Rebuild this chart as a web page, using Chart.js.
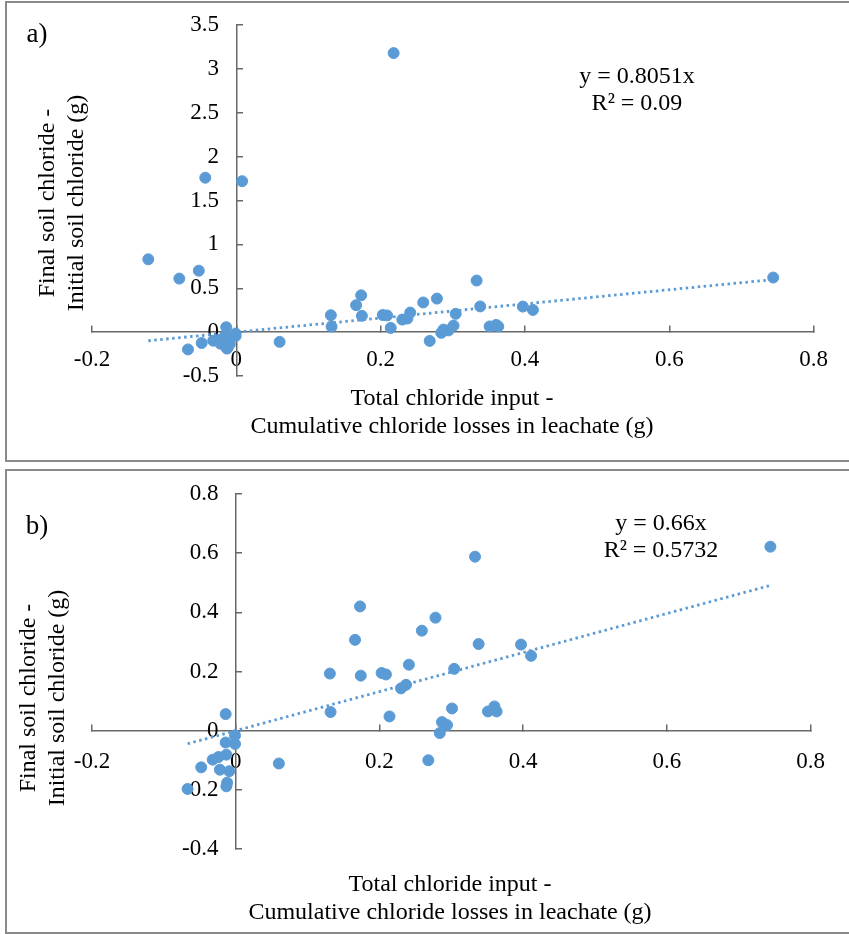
<!DOCTYPE html>
<html>
<head>
<meta charset="utf-8">
<script src="https://cdn.jsdelivr.net/npm/chart.js@4.4.1/dist/chart.umd.min.js"></script>
<style>
  html, body { margin: 0; padding: 0; background: #fff; }
  body { width: 849px; height: 934px; position: relative; overflow: hidden;
         font-family: 'Liberation Serif', 'Times New Roman', serif; color: #000; }
  .panel { position: absolute; left: 5px; width: 900px; border: 2px solid #8a8a8a; }
  #panelA { top: 1px; height: 457px; }
  #panelB { top: 469px; height: 461px; }
  canvas { position: absolute; left: 0; }
  #chartA { top: 0; }
  #chartB { top: 465px; }
  .txt { position: absolute; transform: translate(-50%, -50%); text-align: center;
         white-space: nowrap; font-size: 24px; line-height: 28px; }
  .ytitle { transform: translate(-50%, -50%) rotate(-90deg); line-height: 29px; }
  .eq { line-height: 26.5px; }
  .tag { font-size: 27px; }
</style>
</head>
<body>
<div class="panel" id="panelA"></div>
<div class="panel" id="panelB"></div>
<canvas id="chartA" width="849" height="465"></canvas>
<canvas id="chartB" width="849" height="469"></canvas>

<div class="txt tag" style="left:37px; top:33px">a)</div>
<div class="txt eq" style="left:637px; top:88px">y = 0.8051x<br>R² = 0.09</div>
<div class="txt ytitle" style="left:61px; top:203px">Final soil chloride -<br>Initial soil chloride (g)</div>
<div class="txt" style="left:452px; top:411px">Total chloride input -<br>Cumulative chloride losses in leachate (g)</div>

<div class="txt tag" style="left:37px; top:525px">b)</div>
<div class="txt eq" style="left:661px; top:535px">y = 0.66x<br>R² = 0.5732</div>
<div class="txt ytitle" style="left:42px; top:698px">Final soil chloride -<br>Initial soil chloride (g)</div>
<div class="txt" style="left:450px; top:897px">Total chloride input -<br>Cumulative chloride losses in leachate (g)</div>

<script>
// net chloride balance per column (g): input minus leachate losses vs. change in soil chloride
const netInput = [
  -0.014, -0.001, -0.014, -0.001, -0.032, -0.024, -0.013, -0.048, -0.022, -0.009,
  -0.012, -0.013, -0.067, 0.060, 0.132, 0.131, 0.166, 0.173, 0.174, 0.203,
  0.209, 0.214, 0.230, 0.237, 0.241, 0.259, 0.268, 0.278, 0.284, 0.287,
  0.294, 0.301, 0.304, 0.338, 0.333, 0.351, 0.360, 0.363, 0.397, 0.411,
  0.744
];
const soilChange = [
  0.056, -0.016, -0.040, -0.045, -0.098, -0.089, -0.081, -0.124, -0.132, -0.137,
  -0.176, -0.188, -0.197, -0.111, 0.063, 0.193, 0.307, 0.420, 0.186, 0.195,
  0.190, 0.048, 0.143, 0.155, 0.223, 0.338, -0.100, 0.382, -0.008, 0.029,
  0.019, 0.075, 0.209, 0.293, 0.588, 0.065, 0.082, 0.065, 0.291, 0.253,
  0.622
];
// columns only kept in the full set (a)
const outlierInput = [-0.122, -0.079, -0.052, -0.043, 0.008, 0.218];
const outlierChange = [0.83, 0.61, 0.70, 1.76, 1.72, 3.18];

const slopeA = 0.8051;
const slopeB = 0.66;

const xTicks = [-0.2, 0, 0.2, 0.4, 0.6, 0.8];
const yTicksA = [-0.5, 0, 0.5, 1, 1.5, 2, 2.5, 3, 3.5];
const yTicksB = [-0.4, -0.2, 0, 0.2, 0.4, 0.6, 0.8];

const blue = '#5b9bd5';
const axisGrey = '#686868';
const tickFont = { family: "'Liberation Serif', 'Times New Roman', serif", size: 23 };

function toPoints(xs, ys) {
  return xs.map((x, i) => ({ x: x, y: ys[i] }));
}

// zero-intercept trendline spanning the data range
function trend(xs, slope) {
  const lo = Math.min(...xs);
  const hi = Math.max(...xs);
  return [{ x: lo, y: slope * lo }, { x: hi, y: slope * hi }];
}

function axisOpts(ticks, position, labelPad, fmt) {
  return {
    type: 'linear',
    min: ticks[0],
    max: ticks[ticks.length - 1],
    position: position,
    afterBuildTicks: s => { s.ticks = ticks.map(v => ({ value: v })); },
    grid: { drawOnChartArea: false, drawTicks: true, tickLength: -7, color: axisGrey, lineWidth: 1.5 },
    border: { display: true, color: axisGrey, width: 1.5 },
    ticks: { font: tickFont, color: '#000', padding: labelPad, autoSkip: false,
             maxRotation: 0, callback: fmt }
  };
}

function makeChart(id, xs, ys, slope, yTicks, pad, xLabelPad) {
  return new Chart(document.getElementById(id), {
    type: 'scatter',
    data: {
      datasets: [
        { data: toPoints(xs, ys), backgroundColor: blue, borderColor: blue,
          pointRadius: 5.5, borderWidth: 1 },
        { type: 'line', data: trend(xs, slope), borderColor: blue, borderWidth: 2.8,
          borderDash: [2.5, 3.5], pointRadius: 0, fill: false }
      ]
    },
    options: {
      responsive: false,
      animation: false,
      layout: { padding: pad },
      plugins: { legend: { display: false }, tooltip: { enabled: false } },
      scales: {
        x: axisOpts(xTicks, { y: 0 }, xLabelPad, v => String(v)),
        y: axisOpts(yTicks, { x: 0 }, 7, v => v + '\u2002\u2005')
      }
    }
  });
}

makeChart('chartA', netInput.concat(outlierInput), soilChange.concat(outlierChange),
  slopeA, yTicksA, { left: 92, right: 33, top: 25, bottom: 89 }, 21);
makeChart('chartB', netInput, soilChange,
  slopeB, yTicksB, { left: 92, right: 33, top: 29, bottom: 85 }, 24);
</script>
</body>
</html>
